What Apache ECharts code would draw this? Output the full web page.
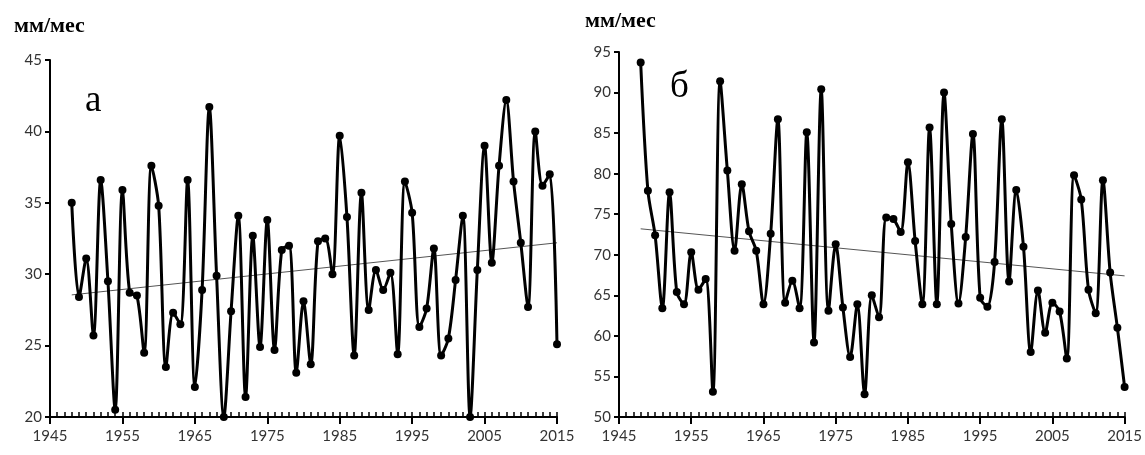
<!DOCTYPE html>
<html>
<head>
<meta charset="utf-8">
<script src="https://cdn.jsdelivr.net/npm/echarts@6/dist/echarts.min.js"></script>
<style>
  html, body { margin: 0; padding: 0; background: #fff; }
  #chart { width: 1145px; height: 455px; }
</style>
</head>
<body>
<div id="chart"></div>
<script>
// years on the x axis (category axis, one per year)
var axisYears = [];
for (var y = 1945; y <= 2015; y++) axisYears.push(String(y));

var dataYears = [];
for (var y2 = 1948; y2 <= 2015; y2++) dataYears.push(String(y2));

// panel а, мм/мес
var seriesA = [
  35.0, 28.4, 31.1, 25.7, 36.6, 29.5, 20.5, 35.9, 28.7, 28.5,
  24.5, 37.6, 34.8, 23.5, 27.3, 26.5, 36.6, 22.1, 28.9, 41.7,
  29.9, 20.0, 27.4, 34.1, 21.4, 32.7, 24.9, 33.8, 24.7, 31.7,
  32.0, 23.1, 28.1, 23.7, 32.3, 32.5, 30.0, 39.7, 34.0, 24.3,
  35.7, 27.5, 30.3, 28.9, 30.1, 24.4, 36.5, 34.3, 26.3, 27.6,
  31.8, 24.3, 25.5, 29.6, 34.1, 20.0, 30.3, 39.0, 30.8, 37.6,
  42.2, 36.5, 32.2, 27.7, 40.0, 36.2, 37.0, 25.1
];
// panel б, мм/мес
var seriesB = [
  93.7, 77.9, 72.4, 63.4, 77.7, 65.4, 63.9, 70.3, 65.7, 67.0,
  53.1, 91.4, 80.4, 70.5, 78.7, 72.9, 70.5, 63.9, 72.6, 86.7,
  64.1, 66.8, 63.4, 85.1, 59.2, 90.4, 63.1, 71.3, 63.5, 57.4,
  63.9, 52.8, 65.0, 62.3, 74.6, 74.4, 72.8, 81.4, 71.7, 63.9,
  85.7, 63.9, 90.0, 73.8, 64.0, 72.2, 84.9, 64.7, 63.6, 69.1,
  86.7, 66.7, 78.0, 71.0, 58.0, 65.6, 60.4, 64.1, 63.0, 57.2,
  79.8, 76.8, 65.7, 62.8, 79.2, 67.8, 61.0, 53.7
];
// linear trend end points (1948, 2015)
var trendYears = ['1948', '2015'];
var trendA = [28.55, 32.2];
var trendB = [73.2, 67.4];

var yTicksA = { min: 20, max: 45, interval: 5 };
var yTicksB = { min: 50, max: 95, interval: 5 };

function pairs(xs, vs) {
  return vs.map(function (v, i) { return [xs[i], v]; });
}

var labelFont = 'Lato, "Open Sans", sans-serif';
var textColor = '#333';
var serif = '"Liberation Serif", serif';

function majorAxis(gridIndex) {
  return {
    type: 'category', gridIndex: gridIndex, position: 'bottom', data: axisYears, boundaryGap: false,
    axisLine: { lineStyle: { color: '#000', width: 2 } },
    axisTick: {
      show: true, length: 7, interval: function (i) { return i % 10 === 0; },
      lineStyle: { color: '#000', width: 2 }
    },
    axisLabel: {
      interval: function (i) { return i % 10 === 0; },
      color: textColor, fontFamily: labelFont, fontSize: 15, margin: 12
    },
    splitLine: { show: false }
  };
}
function minorAxis(gridIndex) {
  return {
    type: 'category', gridIndex: gridIndex, position: 'bottom', data: axisYears, boundaryGap: false,
    axisLine: { show: false },
    axisTick: { show: true, inside: true, length: 5, interval: 0, lineStyle: { color: '#000', width: 1.5 } },
    axisLabel: { show: false },
    splitLine: { show: false }
  };
}
function valueAxis(gridIndex, t) {
  return {
    type: 'value', gridIndex: gridIndex, min: t.min, max: t.max, interval: t.interval,
    axisLine: { show: true, lineStyle: { color: '#000', width: 2 } },
    axisTick: { show: true, length: 5, lineStyle: { color: '#000', width: 2 } },
    axisLabel: { color: textColor, fontFamily: labelFont, fontSize: 15, margin: 8 },
    splitLine: { show: false }
  };
}
function dataSeries(xi, yi, vals) {
  return {
    type: 'line', xAxisIndex: xi, yAxisIndex: yi, data: pairs(dataYears, vals),
    smooth: 0.3, symbol: 'circle', symbolSize: 8, showAllSymbol: true,
    lineStyle: { color: '#000', width: 3 },
    itemStyle: { color: '#000' },
    clip: false, z: 3
  };
}
function trendSeries(xi, yi, vals) {
  return {
    type: 'line', xAxisIndex: xi, yAxisIndex: yi, data: pairs(trendYears, vals),
    symbol: 'none', lineStyle: { color: '#555', width: 1 }, z: 2
  };
}

var chart = echarts.init(document.getElementById('chart'));
chart.setOption({
  animation: false,
  backgroundColor: '#fff',
  title: [
    { text: 'мм/мес', left: 9, top: 10, textStyle: { fontFamily: serif, fontWeight: 'bold', fontSize: 22, color: '#000' } },
    { text: 'мм/мес', left: 580, top: 5, textStyle: { fontFamily: serif, fontWeight: 'bold', fontSize: 22, color: '#000' } },
    { text: 'а', left: 80, top: 78, textStyle: { fontFamily: serif, fontWeight: 'normal', fontSize: 37, color: '#000' } },
    { text: 'б', left: 665, top: 64, textStyle: { fontFamily: serif, fontWeight: 'normal', fontSize: 37, color: '#000' } }
  ],
  grid: [
    { left: 50, right: 588, top: 60, bottom: 38 },
    { left: 619, right: 19, top: 52, bottom: 38 }
  ],
  xAxis: [majorAxis(0), minorAxis(0), majorAxis(1), minorAxis(1)],
  yAxis: [valueAxis(0, yTicksA), valueAxis(1, yTicksB)],
  series: [
    trendSeries(0, 0, trendA),
    dataSeries(0, 0, seriesA),
    trendSeries(2, 1, trendB),
    dataSeries(2, 1, seriesB)
  ]
});
</script>
</body>
</html>
